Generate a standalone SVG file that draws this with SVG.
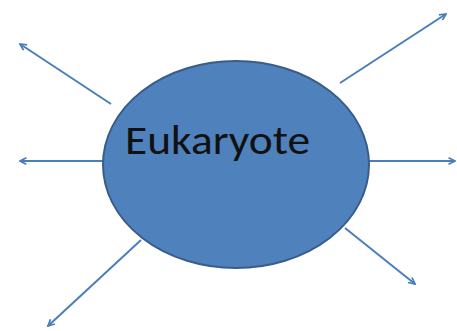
<svg xmlns="http://www.w3.org/2000/svg" width="457" height="331" viewBox="0 0 457 331">
<style>
.conn{stroke:#4a7ebb;stroke-width:2;fill:none;marker-end:url(#arr)}
.label{font-family:"Carlito","Liberation Sans",sans-serif;font-size:40px;fill:#111}
</style>
<defs>
<marker id="arr" viewBox="0 0 10 10" refX="9" refY="5" markerWidth="4" markerHeight="4" orient="auto" markerUnits="strokeWidth">
<path d="M1,1 L9,5 L1,9" fill="none" stroke="#4a7ebb" stroke-width="2.2"/>
</marker>
</defs>
<g id="connectors">
<line class="conn" x1="111" y1="104" x2="20" y2="44"/>
<line class="conn" x1="340" y1="83" x2="446" y2="14"/>
<line class="conn" x1="103" y1="161" x2="20" y2="161"/>
<line class="conn" x1="369" y1="161" x2="455" y2="161"/>
<line class="conn" x1="345" y1="228" x2="415" y2="284"/>
<line class="conn" x1="141" y1="240" x2="48" y2="326"/>
</g>
<g id="eukaryote">
<ellipse cx="236" cy="164.5" rx="133" ry="103.5" fill="#4f81bd" stroke="#385d8a" stroke-width="2"/>
<text class="label" x="125" y="154" textLength="185" lengthAdjust="spacingAndGlyphs">Eukaryote</text>
</g>
</svg>
